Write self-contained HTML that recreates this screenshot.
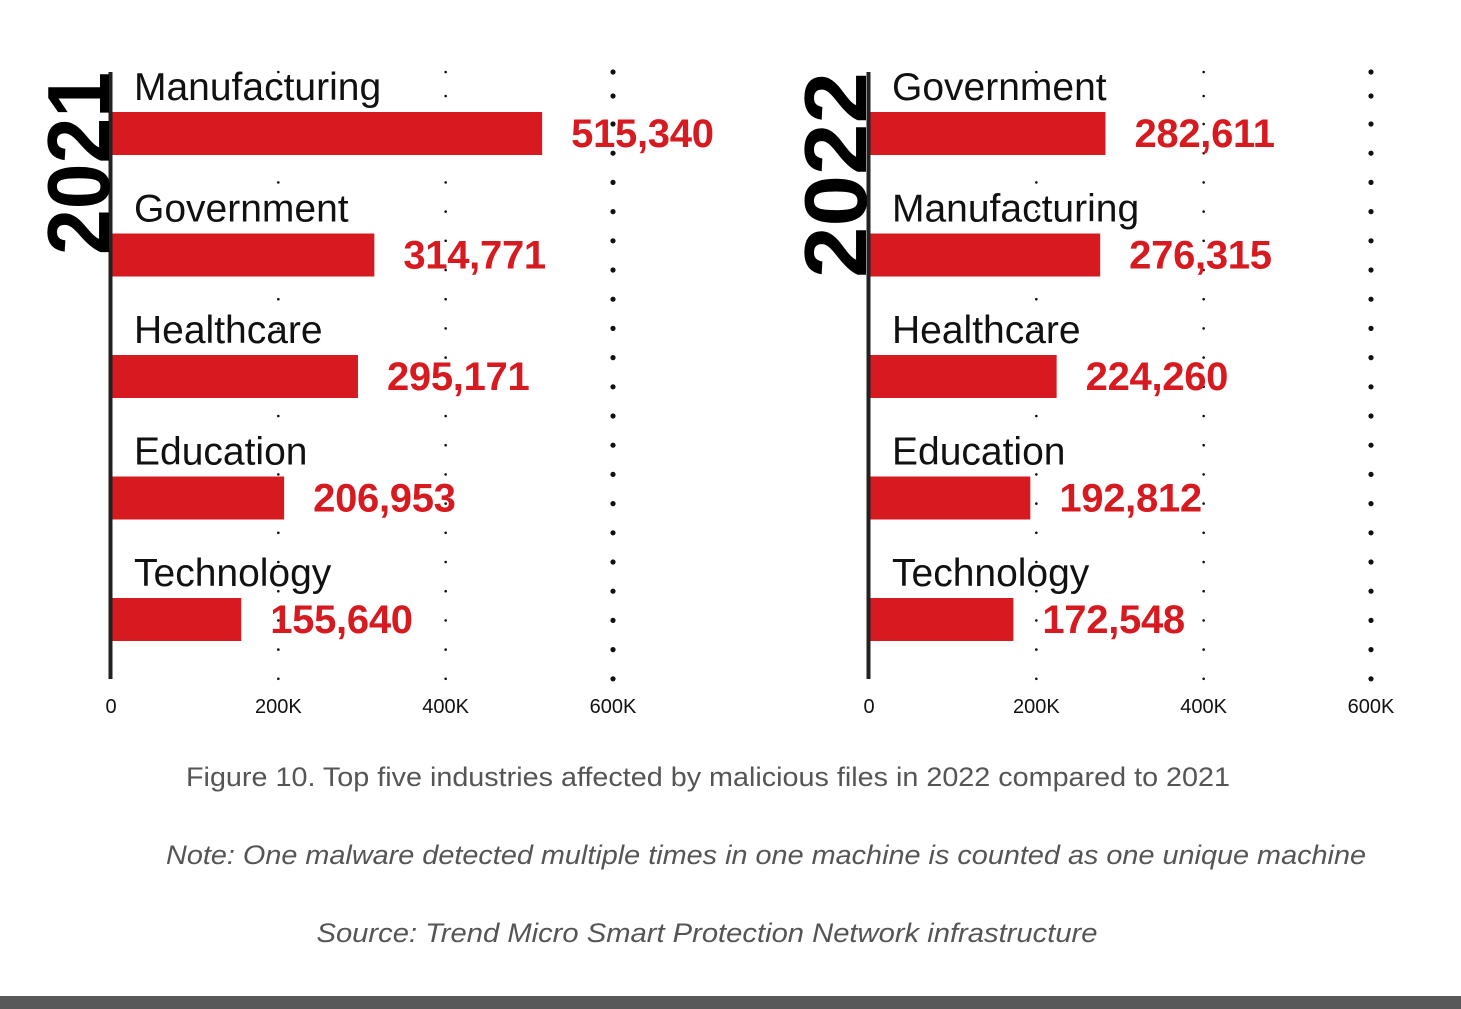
<!DOCTYPE html>
<html><head><meta charset="utf-8"><style>
html,body{margin:0;padding:0;background:#fff;width:1461px;height:1009px;overflow:hidden}
svg{display:block}
</style></head><body>
<svg id="chart" width="1461" height="1009" xmlns="http://www.w3.org/2000/svg" font-family="'Liberation Sans', sans-serif">
<rect x="0" y="996" width="1461" height="13" fill="#58585a"/>
<text x="708" y="786" text-anchor="middle" font-size="27" fill="#555" textLength="1044" lengthAdjust="spacingAndGlyphs">Figure 10. Top five industries affected by malicious files in 2022 compared to 2021</text>
<text x="766" y="864" text-anchor="middle" font-size="27" font-style="italic" fill="#555" textLength="1200" lengthAdjust="spacingAndGlyphs">Note: One malware detected multiple times in one machine is counted as one unique machine</text>
<text x="707" y="942" text-anchor="middle" font-size="27" font-style="italic" fill="#555" textLength="781" lengthAdjust="spacingAndGlyphs">Source: Trend Micro Smart Protection Network infrastructure</text>
</svg>
<script>
const years = ['2021', '2022'];
const categories2021 = ['Manufacturing', 'Government', 'Healthcare', 'Education', 'Technology'];
const values2021 = [515340, 314771, 295171, 206953, 155640];
const categories2022 = ['Government', 'Manufacturing', 'Healthcare', 'Education', 'Technology'];
const values2022 = [282611, 276315, 224260, 192812, 172548];
const tickValues = [0, 200000, 400000, 600000];
const tickLabels = ['0', '200K', '400K', '600K'];

const svg = document.getElementById('chart');
const NS = 'http://www.w3.org/2000/svg';
function mk(tag, attrs, text) {
  const e = document.createElementNS(NS, tag);
  for (const k in attrs) e.setAttribute(k, attrs[k]);
  if (text !== undefined) e.textContent = text;
  svg.appendChild(e);
  return e;
}
const panels = [
  {x0: 111, yearLen: 183, yearX: 109, cats: categories2021, vals: values2021, year: years[0]},
  {x0: 869, yearLen: 206, yearX: 866, cats: categories2022, vals: values2022, year: years[1]}
];
const pxPer = (613 - 111) / 600000;
const rowY = i => 112 + i * 121.5;
const dotYs = [72, 96];
for (let k = 0; k < 20; k++) dotYs.push(124 + k * 29.2);

panels.forEach((p, pi) => {
  const xs = v => p.x0 + v * pxPer;
  tickValues.forEach((t, ti) => {
    if (t === 0) return;
    dotYs.forEach(y => {
      const d = mk('circle', {cx: xs(t), cy: y, r: ti === 3 ? 2.6 : 1.3, fill: '#111'});
      
      
    });
  });
  tickValues.forEach((t, ti) => {
    const tl = mk('text', {x: xs(t), y: 713, 'text-anchor': 'middle', 'font-size': 20, fill: '#111'}, tickLabels[ti]);
    
    
  });
  p.cats.forEach((c, i) => {
    const y = rowY(i);
    const w = p.vals[i] * pxPer;
    const b = mk('rect', {x: p.x0, y: y, width: w, height: 43, fill: '#d71920'});
    
    
    const lab = mk('text', {x: p.x0 + 23, y: y - 12, 'font-size': 39, fill: '#111'}, c);
    
    
    const vl = mk('text', {x: p.x0 + w + 29, y: y + 35, 'font-size': 40, 'font-weight': 'bold', fill: '#d71920', 'letter-spacing': '-0.3'}, p.vals[i].toLocaleString('en-US'));
    
    
  });
  const ax = mk('rect', {x: p.x0 - 2.5, y: 72, width: 4, height: 607, fill: '#222'});
  
  
  const yl = mk('text', {x: 0, y: 0, 'font-size': 88, 'font-weight': 'bold', fill: '#000', textLength: p.yearLen, lengthAdjust: 'spacingAndGlyphs', transform: 'translate(' + p.yearX + ',' + (72 + p.yearLen) + ') rotate(-90)'}, p.year);
  
  
});
</script>
</body></html>
